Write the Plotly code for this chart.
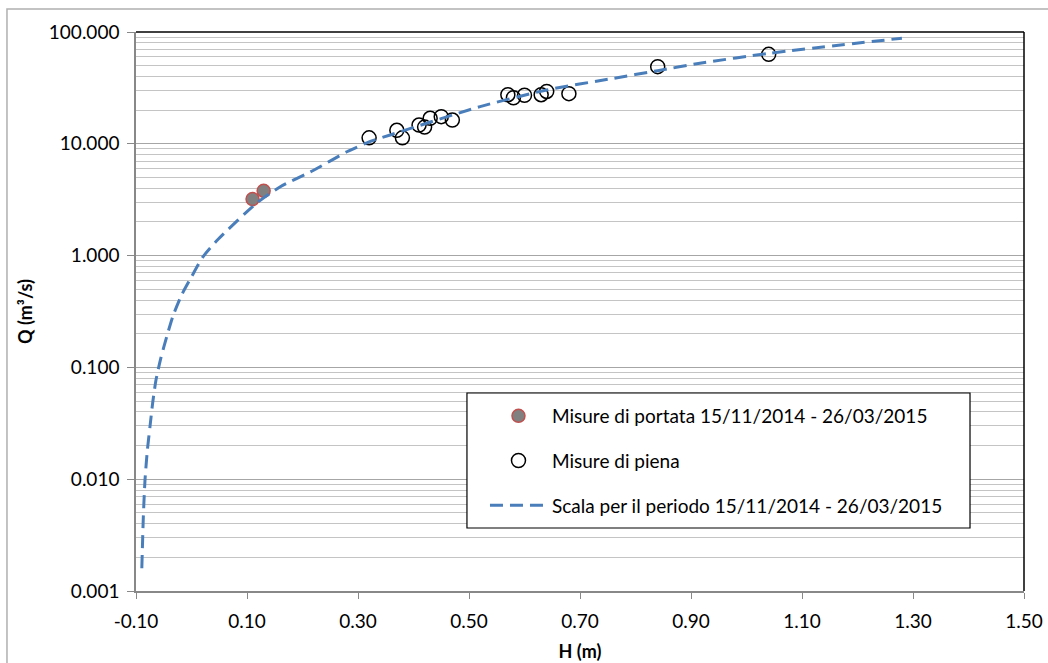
import plotly.graph_objects as go

# --- data ---
h_portata = [0.11, 0.13]
q_portata = [3.2, 3.8]

h_piena = [0.32, 0.37, 0.38, 0.41, 0.42, 0.43, 0.45, 0.47, 0.57, 0.58, 0.60, 0.63, 0.64, 0.68, 0.84, 1.04]
q_piena = [11.3, 13.2, 11.3, 14.7, 14.1, 16.9, 17.5, 16.3, 27.5, 25.8, 27.2, 27.5, 29.4, 28.1, 49.0, 63.1]

h_scala = [-0.0895, -0.0868, -0.0838, -0.0796, -0.0748, -0.070, -0.064, -0.0555, -0.0447, -0.0328,
           -0.0177, 0.0003, 0.021, 0.048, 0.117, 0.16, 0.22, 0.28, 0.32, 0.358, 0.52, 0.64, 0.76,
           0.84, 0.916, 1.04, 1.28]
q_scala = [0.0016, 0.0046, 0.0098, 0.018, 0.0295, 0.048, 0.077, 0.12, 0.188, 0.294,
           0.445, 0.65, 0.98, 1.40, 2.94, 4.13, 5.8, 8.49, 10.4, 12.0, 21.5, 30.3, 38.5,
           45.1, 52.5, 64.4, 88.0]

y_tickvals = [0.001, 0.01, 0.1, 1, 10, 100]
y_ticktext = ["0.001", "0.010", "0.100", "1.000", "10.000", "100.000"]
x_tickvals = [-0.10, 0.10, 0.30, 0.50, 0.70, 0.90, 1.10, 1.30, 1.50]
x_ticktext = ["-0.10", "0.10", "0.30", "0.50", "0.70", "0.90", "1.10", "1.30", "1.50"]

minor_vals = [m * 10 ** e for e in range(-3, 2) for m in range(2, 10)]

FONT = "Lato"

fig = go.Figure()

fig.add_trace(go.Scatter(
    x=h_portata, y=q_portata, mode="markers",
    name="Misure di portata 15/11/2014 - 26/03/2015",
    legendgroup="a",
    marker=dict(size=13, color="#808080", line=dict(color="#c0504d", width=1.5)),
))
fig.add_trace(go.Scatter(
    x=h_piena, y=q_piena, mode="markers",
    name="Misure di piena",
    legendgroup="b",
    marker=dict(size=14, color="rgba(0,0,0,0)", line=dict(color="black", width=1.5)),
))
fig.add_trace(go.Scatter(
    x=h_scala, y=q_scala, mode="lines",
    name="Scala per il periodo 15/11/2014 - 26/03/2015",
    legendgroup="c",
    line=dict(color="#4a7ebb", width=3, dash="13px,7px", shape="spline", smoothing=0.6),
))

fig.update_layout(
    width=1048, height=663,
    margin=dict(l=136, r=24, t=32, b=72, autoexpand=False),
    paper_bgcolor="white", plot_bgcolor="white",
    font=dict(family=FONT, color="black", size=19),
    legend=dict(
        x=0.393, y=0.3471, xanchor="left", yanchor="top",
        bgcolor="rgba(0,0,0,0)", borderwidth=0,
        font=dict(family=FONT, size=19, color="black"),
        tracegroupgap=17, traceorder="grouped",
        itemwidth=57,
    ),
    showlegend=True,
)

fig.update_xaxes(
    range=[-0.10, 1.50], tickvals=x_tickvals, ticktext=x_ticktext,
    showgrid=False, zeroline=False, automargin=False,
    showline=True, linecolor="#888888", linewidth=1.5,
    ticks="outside", ticklen=6, tickcolor="#888888",
    tickfont=dict(family=FONT, size=19),
    ticklabelstandoff=6,
    title=dict(text="<b>H (m)</b>", font=dict(family=FONT, size=18), standoff=15),
)
fig.update_yaxes(
    type="log", range=[-3, 2], tickvals=y_tickvals, ticktext=y_ticktext,
    showgrid=True, gridcolor="#a6a6a6", gridwidth=1.2,
    zeroline=False, automargin=False,
    showline=True, linecolor="#888888", linewidth=1.5,
    ticks="outside", ticklen=7, tickcolor="#888888",
    tickfont=dict(family=FONT, size=19),
    ticklabelstandoff=4,
    minor=dict(tickvals=minor_vals, showgrid=True, gridcolor="#c4c4c4", gridwidth=1, ticks=""),
    title=dict(text="<b>Q (m³/s)</b>", font=dict(family=FONT, size=18), standoff=12),
)

# black top and right border of the plot area
fig.add_shape(type="line", xref="paper", yref="paper", x0=0, x1=1, y0=1, y1=1,
              line=dict(color="black", width=1.5))
fig.add_shape(type="line", xref="paper", yref="paper", x0=1, x1=1, y0=0, y1=1,
              line=dict(color="black", width=1.5))
# legend frame
fig.add_shape(type="rect", xref="paper", yref="paper", x0=0.3727, x1=0.9392, y0=0.1127, y1=0.3542,
              line=dict(color="black", width=1.2), fillcolor="white", layer="above")
# outer chart frame (only left/top visible)
fig.add_shape(type="rect", xref="paper", yref="paper", x0=-0.1453, x1=1.2, y0=-0.3, y1=1.0411,
              line=dict(color="#b0b0b0", width=1.5), layer="below")

fig.write_html("out.html", config={"displayModeBar": False},
               post_script="document.body.style.margin='0';")
